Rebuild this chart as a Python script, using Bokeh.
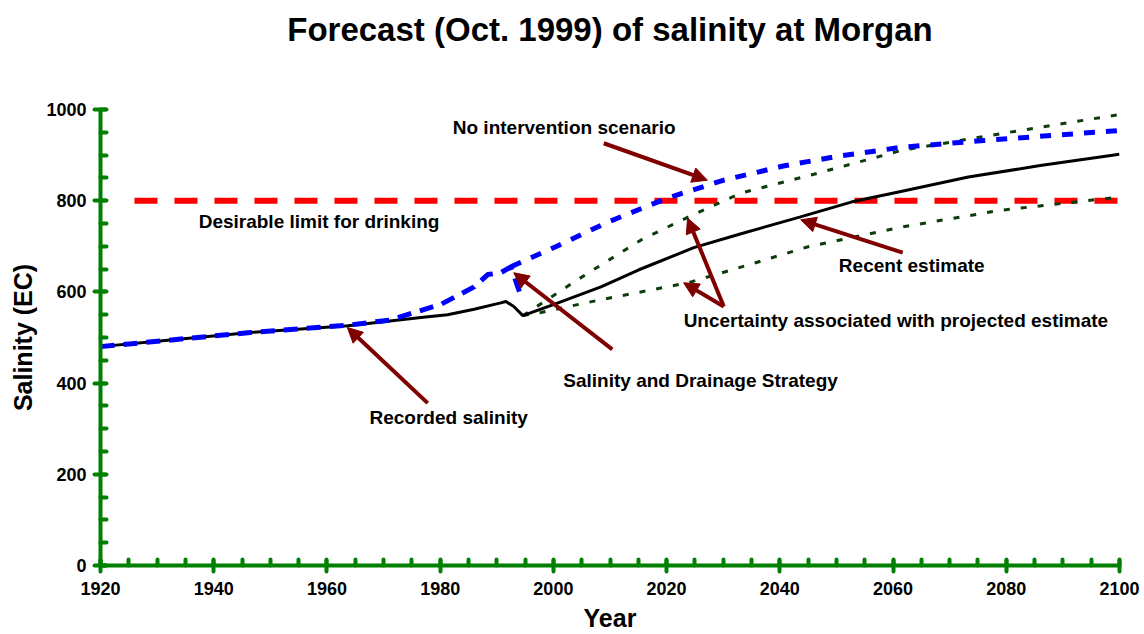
from bokeh.plotting import figure
from bokeh.models import Range1d, Arrow, NormalHead, SingleIntervalTicker, ColumnDataSource, Title
from bokeh.core.properties import value
from bokeh.embed import file_html
from bokeh.resources import INLINE

FONT = "Liberation Sans"

# ---- data ----
title_text = "Forecast (Oct. 1999) of salinity at Morgan"

recent_years = [1920, 1930, 1946.5, 1963.7, 1976.6, 1981.3, 1986, 1990.7, 1991.6, 1993, 1994.6,
                2000, 2008.4, 2015, 2024.8, 2033, 2043.5, 2052.6, 2062, 2073.3, 2086, 2100]
recent_vals = [480, 492, 511, 526, 544, 550, 562, 576, 579, 568, 548,
               572, 611, 648, 697, 727, 764, 797, 822, 852, 877, 902]

nointerv_hist_years = [1920, 1946.5, 1963.7, 1971, 1976, 1978.9, 1980, 1986, 1988.4, 1990.7, 1992.5, 1994.3]
nointerv_hist_vals = [480, 511, 527, 538, 557, 568, 572, 611, 638, 642, 655, 590]

nointerv_proj_years = [1992.5, 2000.4, 2009.6, 2020.2, 2030.1, 2040.6, 2050, 2061.4, 2076, 2088, 2100]
nointerv_proj_vals = [655, 699, 753, 806, 845, 876, 897, 917, 932, 943, 954]

upper_years = [1994.6, 1995.5, 2004.3, 2015.5, 2023.8, 2033.2, 2046, 2061.4, 2079, 2100]
upper_vals = [548, 555, 627, 714, 764, 817, 858, 910, 947, 989]

lower_years = [1994.6, 1997.8, 2008.4, 2023.8, 2034.4, 2045, 2061.4, 2079, 2100]
lower_vals = [548, 555, 583, 620, 659, 699, 742, 779, 808]

limit_years = [1926, 2100]
limit_vals = [800, 800]

labels = ["No intervention scenario", "Desirable limit for drinking", "Recent estimate",
          "Uncertainty associated with projected estimate", "Salinity and Drainage Strategy",
          "Recorded salinity"]
label_x = [2001.9, 1958.6, 2063.3, 2060.5, 2026.0, 1981.5]
label_y = [961, 754, 658, 537.5, 406, 325.5]

# arrows: (x_start, y_start, x_end, y_end)
arrows = [
    (2008.9, 926, 2027.2, 845),
    (2061.7, 686, 2043.7, 758),
    (2030.1, 568, 2023.7, 762),
    (2030.1, 568, 2023.0, 620),
    (2010.4, 474, 1993.0, 642),
    (1977.8, 356, 1963.6, 522),
]

# ---- figure ----
p = figure(width=1144, height=634, output_backend="svg", toolbar_location=None,
           x_range=Range1d(1920, 2100), y_range=Range1d(0, 1000),
           min_border_left=100, min_border_right=25, min_border_top=109, min_border_bottom=67)
p.outline_line_color = None
p.xgrid.visible = False
p.ygrid.visible = False
p.background_fill_color = "white"
p.border_fill_color = "white"

# spacer between frame and title, then the title itself (stacked outward)
p.add_layout(Title(text=" ", text_font=FONT, text_font_size="10px", standoff=43), "above")
p.add_layout(Title(text=title_text, text_font=FONT, text_font_size="33px",
                   text_font_style="bold", text_color="black", align="center", standoff=12), "above")

GREEN = "#008000"
for ax in (p.xaxis[0], p.yaxis[0]):
    ax.axis_line_color = GREEN
    ax.axis_line_width = 4
    ax.major_tick_line_color = GREEN
    ax.major_tick_line_width = 4
    ax.major_tick_line_cap = "round"
    ax.minor_tick_line_color = GREEN
    ax.minor_tick_line_width = 4
    ax.minor_tick_line_cap = "round"
    ax.major_tick_in = 5
    ax.major_tick_out = 6
    ax.minor_tick_in = 6
    ax.minor_tick_out = 0
    ax.major_label_text_font = FONT
    ax.major_label_text_font_style = "bold"
    ax.major_label_text_font_size = "18px"
    ax.major_label_text_color = "black"
    ax.axis_label_text_font = FONT
    ax.axis_label_text_font_style = "bold"
    ax.axis_label_text_font_size = "25px"
    ax.axis_label_text_color = "black"

p.xaxis[0].ticker = SingleIntervalTicker(interval=20, num_minor_ticks=4)
p.yaxis[0].ticker = SingleIntervalTicker(interval=200, num_minor_ticks=4)
p.xaxis[0].axis_label = "Year"
p.yaxis[0].axis_label = "Salinity (EC)"
p.xaxis[0].major_label_standoff = 10
p.yaxis[0].major_label_standoff = 8
p.xaxis[0].axis_label_standoff = 6
p.yaxis[0].axis_label_standoff = 6

# ---- series ----
p.line(limit_years, limit_vals, line_color="#ff0000", line_width=6, line_dash="23 17")
p.line(upper_years, upper_vals, line_color="#0b3d0b", line_width=3, line_dash="6 11")
p.line(lower_years, lower_vals, line_color="#0b3d0b", line_width=3, line_dash="6 11")
p.line(recent_years, recent_vals, line_color="black", line_width=3)
p.line(nointerv_hist_years, nointerv_hist_vals, line_color="#0000ff", line_width=5, line_dash="14 9")
p.line(nointerv_proj_years, nointerv_proj_vals, line_color="#0000ff", line_width=5, line_dash="11 11")

# ---- annotations ----
DARKRED = "#800000"
for (x0, y0, x1, y1) in arrows:
    p.add_layout(Arrow(x_start=x0, y_start=y0, x_end=x1, y_end=y1,
                       line_color=DARKRED, line_width=4,
                       end=NormalHead(size=15, fill_color=DARKRED, line_color=DARKRED, line_width=1)))

src = ColumnDataSource(dict(x=label_x, y=label_y, t=labels))
p.text(x="x", y="y", text="t", source=src, text_font=value(FONT), text_font_style="bold",
       text_font_size="19px", text_align="center", text_baseline="middle", text_color="black")

open("out.html", "w").write(file_html(p, INLINE))
